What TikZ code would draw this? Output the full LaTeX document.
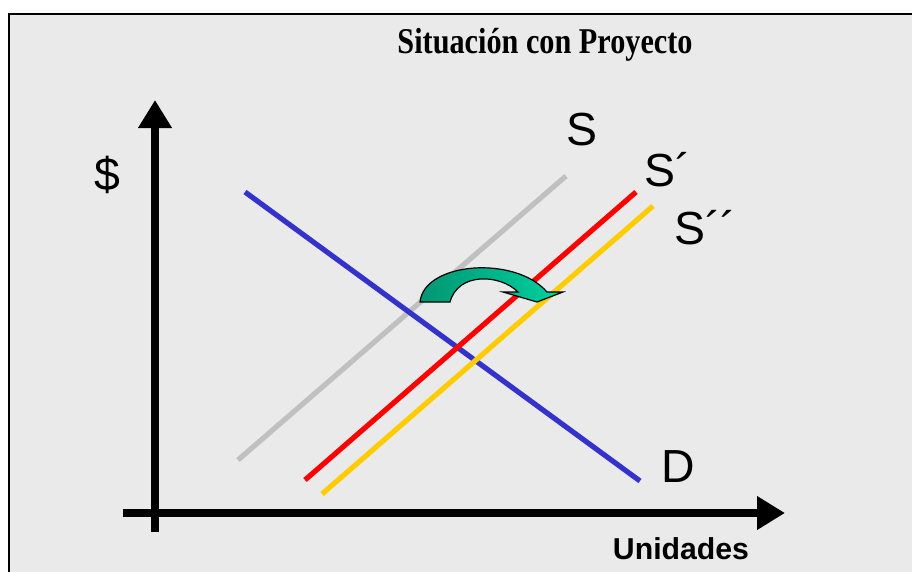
\documentclass[tikz,border=0pt]{standalone}
\usepackage{fontspec}
\setmainfont{Liberation Sans}
\newfontfamily\titlefont{Liberation Serif}
\usepackage{tikz}
\usetikzlibrary{arrows.meta}
\definecolor{panelgray}{RGB}{234,234,234}
\definecolor{sgray}{RGB}{192,192,192}
\definecolor{dblue}{RGB}{51,51,204}
\definecolor{syellow}{RGB}{255,204,0}
\definecolor{arrdark}{RGB}{0,150,115}
\definecolor{arrlight}{RGB}{0,210,160}

\begin{document}
\begin{tikzpicture}[x=0.025cm,y=-0.025cm,
  axis/.style={line width=0.2cm,-{Triangle[length=0.7cm,width=0.8cm]}},
  curve/.style={line width=0.13cm},
  lbl/.style={font=\fontsize{33}{36}\selectfont,inner sep=0pt}]
  \useasboundingbox (0,0) rectangle (912,571);
  \draw[line width=0.05cm,fill=panelgray] (9,14) rectangle (930,590);
  % title
  \node[font=\titlefont\bfseries\fontsize{21.5}{24}\selectfont,inner sep=0pt](title) at (545,45){\scalebox{1}[1.2]{Situación con Proyecto}};
  % axes
  \coordinate (yb) at (155,532); \coordinate (yt) at (155,100);
  \coordinate (xl) at (123,513); \coordinate (xr) at (785,513);
  \draw[axis](yb)--(yt);
  \draw[axis](xl)--(xr);
  \node[lbl](dollar) at (107,175){\$};
  \node[font=\bfseries\fontsize{21.5}{24}\selectfont,inner sep=0pt](units) at (681,549){Unidades};
  % supply and demand
  \coordinate (s0) at (238,460); \coordinate (s1) at (566,176);
  \coordinate (r0) at (305,480); \coordinate (r1) at (636,192);
  \coordinate (y0) at (322,494); \coordinate (y1) at (653,206);
  \coordinate (d0) at (245,192); \coordinate (d1) at (640,481);
  \draw[curve,sgray](s0)--(s1);
  \draw[curve,dblue](d0)--(d1);
  \draw[curve,red](r0)--(r1);
  \draw[curve,syellow](y0)--(y1);
  \node[lbl](slbl) at (582,130){S};
  \node[lbl](sp) at (668,170){S´};
  \node[lbl](spp) at (705,228){S´´};
  \node[lbl](dlbl) at (678,467){D};
  % shift arrow
  \draw[line width=0.03cm,left color=arrdark,right color=arrlight]
    (420,302) .. controls (424,262) and (515,255) .. (547,292) -- (563,292)
    -- (537,302) -- (503,292) -- (518,292)
    .. controls (500,274) and (458,272) .. (450,302) -- cycle;
\end{tikzpicture}
\end{document}
